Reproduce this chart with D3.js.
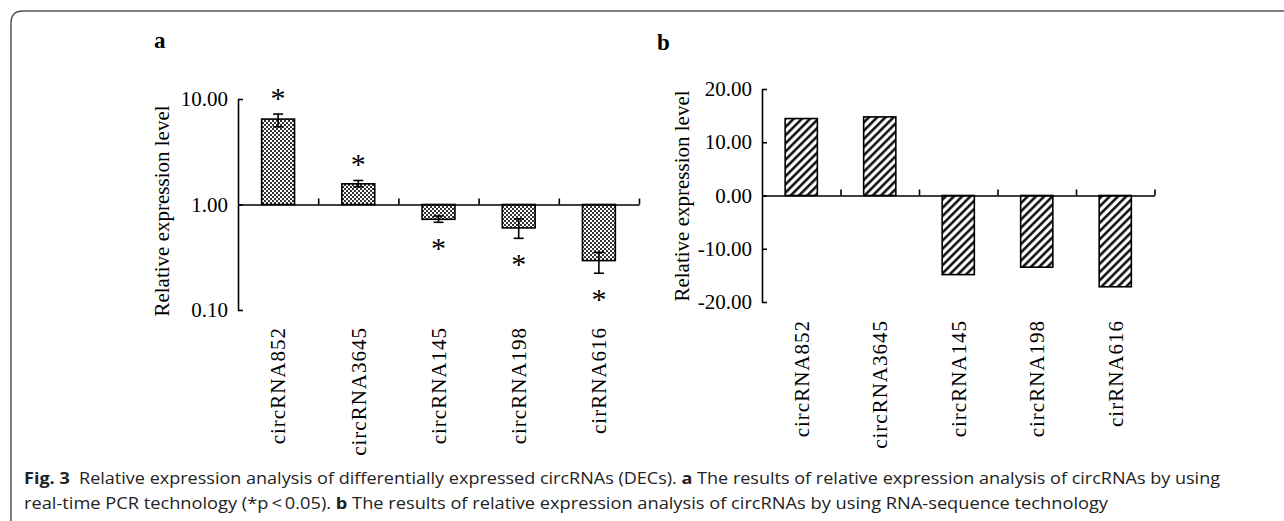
<!DOCTYPE html>
<html>
<head>
<meta charset="utf-8">
<script src="https://cdn.jsdelivr.net/npm/d3@7/dist/d3.min.js"></script>
<style>
  body { margin: 0; background: #fff; }
  svg text { font-family: "Liberation Serif", "Times New Roman", serif; fill: #000; }
  .axis path, .axis line { stroke: #000; stroke-width: 1.6px; }
  .caption tspan, .caption { font-family: "Open Sans", "Noto Sans", sans-serif; fill: #222; }
</style>
</head>
<body>
<div id="chart"></div>
<script>
// categories and values
var categoriesA = ['circRNA852', 'circRNA3645', 'circRNA145', 'circRNA198', 'cirRNA616'];
var categoriesB = ['circRNA852', 'circRNA3645', 'circRNA145', 'circRNA198', 'cirRNA616'];

// panel a: real-time PCR, log scale, mean with error range
var pcrMean = [6.45, 1.57, 0.724, 0.60, 0.294];
var pcrHigh = [7.2, 1.69, 0.778, 0.73, 0.352];
var pcrLow  = [5.45, 1.47, 0.678, 0.478, 0.223];
var pcrSignificant = [true, true, true, true, true];

// panel b: RNA-seq
var seqValues = [14.45, 14.76, -14.86, -13.46, -17.14];

var ticksA = [0.1, 1, 10];
var ticksB = [-20, -10, 0, 10, 20];

var width = 1284, height = 521;

var svg = d3.select('#chart').append('svg')
  .attr('width', width)
  .attr('height', height);

// fill patterns
var defs = svg.append('defs');
var checker = defs.append('pattern')
  .attr('id', 'checker')
  .attr('patternUnits', 'userSpaceOnUse')
  .attr('width', 4).attr('height', 4);
checker.append('rect').attr('width', 4).attr('height', 4).attr('fill', '#fff');
checker.append('rect').attr('x', 0).attr('y', 0).attr('width', 2).attr('height', 2).attr('fill', '#333');
checker.append('rect').attr('x', 2).attr('y', 2).attr('width', 2).attr('height', 2).attr('fill', '#333');

var hatch = defs.append('pattern')
  .attr('id', 'hatch')
  .attr('patternUnits', 'userSpaceOnUse')
  .attr('width', 5.8).attr('height', 5.8)
  .attr('patternTransform', 'rotate(45)');
hatch.append('rect').attr('width', 5.8).attr('height', 5.8).attr('fill', '#fff');
hatch.append('line')
  .attr('x1', 1.4).attr('y1', 0).attr('x2', 1.4).attr('y2', 5.8)
  .attr('stroke', '#000').attr('stroke-width', 2.4);

// frame with rounded top-left corner
svg.append('path')
  .attr('d', 'M11,' + height + ' V23 Q11,11 23,11 H' + width)
  .attr('fill', 'none')
  .attr('stroke', '#555')
  .attr('stroke-width', 1.5);

var fmt = function(d) { return d.toFixed(2); };

// ---------- panel a ----------
var ax0 = 238, ax1 = 639;
var yA = d3.scaleLog().domain([0.1, 10]).range([310, 99]);
var xA = d3.scaleBand().domain(categoriesA).range([ax0, ax1]).paddingInner(0).paddingOuter(0);
var bwA = xA.bandwidth() * 0.41;

var gA = svg.append('g');

gA.append('text')
  .attr('x', 154).attr('y', 48)
  .attr('font-size', '23px').attr('font-weight', 'bold')
  .text('a');

gA.append('g')
  .attr('class', 'axis')
  .attr('transform', 'translate(' + ax0 + ',0)')
  .call(d3.axisLeft(yA).tickValues(ticksA).tickFormat(fmt).tickSizeInner(-5).tickSizeOuter(0).tickPadding(10))
  .call(function(g) { g.selectAll('text').attr('font-size', '21px').attr('font-family', '"Liberation Serif", serif'); });

gA.selectAll('.bar')
  .data(pcrMean)
  .enter()
  .append('rect')
  .attr('x', function(d, i) { return xA(categoriesA[i]) + (xA.bandwidth() - bwA) / 2; })
  .attr('y', function(d) { return Math.min(yA(d), yA(1)); })
  .attr('width', bwA)
  .attr('height', function(d) { return Math.abs(yA(d) - yA(1)); })
  .attr('fill', 'url(#checker)')
  .attr('stroke', '#000')
  .attr('stroke-width', 1.6);

// error bars
var err = gA.selectAll('.err')
  .data(pcrMean)
  .enter()
  .append('g')
  .attr('transform', function(d, i) { return 'translate(' + (xA(categoriesA[i]) + xA.bandwidth() / 2) + ',0)'; });
err.append('line')
  .attr('y1', function(d, i) { return yA(pcrHigh[i]); })
  .attr('y2', function(d, i) { return yA(pcrLow[i]); })
  .attr('stroke', '#000').attr('stroke-width', 1.6);
err.append('line')
  .attr('x1', -5).attr('x2', 5)
  .attr('y1', function(d, i) { return yA(pcrHigh[i]); })
  .attr('y2', function(d, i) { return yA(pcrHigh[i]); })
  .attr('stroke', '#000').attr('stroke-width', 1.6);
err.append('line')
  .attr('x1', -5).attr('x2', 5)
  .attr('y1', function(d, i) { return yA(pcrLow[i]); })
  .attr('y2', function(d, i) { return yA(pcrLow[i]); })
  .attr('stroke', '#000').attr('stroke-width', 1.6);

// significance stars
err.filter(function(d, i) { return pcrSignificant[i]; })
  .append('text')
  .attr('text-anchor', 'middle')
  .attr('font-size', '30px')
  .attr('y', function(d, i) { return d >= 1 ? yA(pcrHigh[i]) - 20 + 14 : yA(pcrLow[i]) + 22 + 14; })
  .text('*');

// category axis through 1.00
var bA = d3.scaleLinear().domain([0, 5]).range([ax0, ax1]);
gA.append('g')
  .attr('class', 'axis')
  .attr('transform', 'translate(0,' + yA(1) + ')')
  .call(d3.axisTop(bA).tickValues([1, 2, 3, 4, 5]).tickFormat('').tickSizeInner(6).tickSizeOuter(0));

gA.selectAll('.cat')
  .data(categoriesA)
  .enter()
  .append('text')
  .attr('transform', function(d) { return 'translate(' + (xA(d) + xA.bandwidth() / 2) + ',' + 327 + ') rotate(-90)'; })
  .attr('dy', '0.35em')
  .attr('text-anchor', 'end')
  .attr('font-size', '21px')
  .attr('letter-spacing', '1px')
  .text(function(d) { return d; });

gA.append('text')
  .attr('transform', 'translate(162,211) rotate(-90)')
  .attr('dy', '0.35em')
  .attr('text-anchor', 'middle')
  .attr('font-size', '21px')
  .text('Relative expression level');

// ---------- panel b ----------
var bx0 = 762, bx1 = 1154.5;
var yB = d3.scaleLinear().domain([-20, 20]).range([302, 89]);
var xB = d3.scaleBand().domain(categoriesB).range([bx0, bx1]);
var bwB = xB.bandwidth() * 0.41;

var gB = svg.append('g');

gB.append('text')
  .attr('x', 657).attr('y', 50)
  .attr('font-size', '23px').attr('font-weight', 'bold')
  .text('b');

gB.append('g')
  .attr('class', 'axis')
  .attr('transform', 'translate(' + bx0 + ',0)')
  .call(d3.axisLeft(yB).tickValues(ticksB).tickFormat(fmt).tickSizeInner(-5).tickSizeOuter(0).tickPadding(10))
  .call(function(g) { g.selectAll('text').attr('font-size', '21px').attr('font-family', '"Liberation Serif", serif'); });

gB.selectAll('.bar')
  .data(seqValues)
  .enter()
  .append('rect')
  .attr('x', function(d, i) { return xB(categoriesB[i]) + (xB.bandwidth() - bwB) / 2; })
  .attr('y', function(d) { return Math.min(yB(d), yB(0)); })
  .attr('width', bwB)
  .attr('height', function(d) { return Math.abs(yB(d) - yB(0)); })
  .attr('fill', 'url(#hatch)')
  .attr('stroke', '#000')
  .attr('stroke-width', 1.6);

var bB = d3.scaleLinear().domain([0, 5]).range([bx0, bx1]);
gB.append('g')
  .attr('class', 'axis')
  .attr('transform', 'translate(0,' + yB(0) + ')')
  .call(d3.axisTop(bB).tickValues([1, 2, 3, 4, 5]).tickFormat('').tickSizeInner(6).tickSizeOuter(0));

gB.selectAll('.cat')
  .data(categoriesB)
  .enter()
  .append('text')
  .attr('transform', function(d) { return 'translate(' + (xB(d) + xB.bandwidth() / 2) + ',' + 320 + ') rotate(-90)'; })
  .attr('dy', '0.35em')
  .attr('text-anchor', 'end')
  .attr('font-size', '21px')
  .attr('letter-spacing', '1px')
  .text(function(d) { return d; });

gB.append('text')
  .attr('transform', 'translate(682,196) rotate(-90)')
  .attr('dy', '0.35em')
  .attr('text-anchor', 'middle')
  .attr('font-size', '21px')
  .text('Relative expression level');

// ---------- caption ----------
var line1 = svg.append('text')
  .attr('class', 'caption')
  .attr('x', 24).attr('y', 484)
  .attr('font-size', '16px')
  .attr('textLength', 1196)
  .attr('lengthAdjust', 'spacingAndGlyphs');
line1.append('tspan').attr('font-weight', 'bold').attr('fill', '#111').text('Fig. 3');
line1.append('tspan').text('\u00a0\u00a0Relative expression analysis of differentially expressed circRNAs (DECs). ');
line1.append('tspan').attr('font-weight', 'bold').attr('fill', '#111').text('a');
line1.append('tspan').text(' The results of relative expression analysis of circRNAs by using');

var line2 = svg.append('text')
  .attr('class', 'caption')
  .attr('x', 24).attr('y', 509)
  .attr('font-size', '16px')
  .attr('textLength', 1084)
  .attr('lengthAdjust', 'spacingAndGlyphs');
line2.append('tspan').text('real-time PCR technology (*p\u2009<\u20090.05). ');
line2.append('tspan').attr('font-weight', 'bold').attr('fill', '#111').text('b');
line2.append('tspan').text(' The results of relative expression analysis of circRNAs by using RNA-sequence technology');
</script>
</body>
</html>
